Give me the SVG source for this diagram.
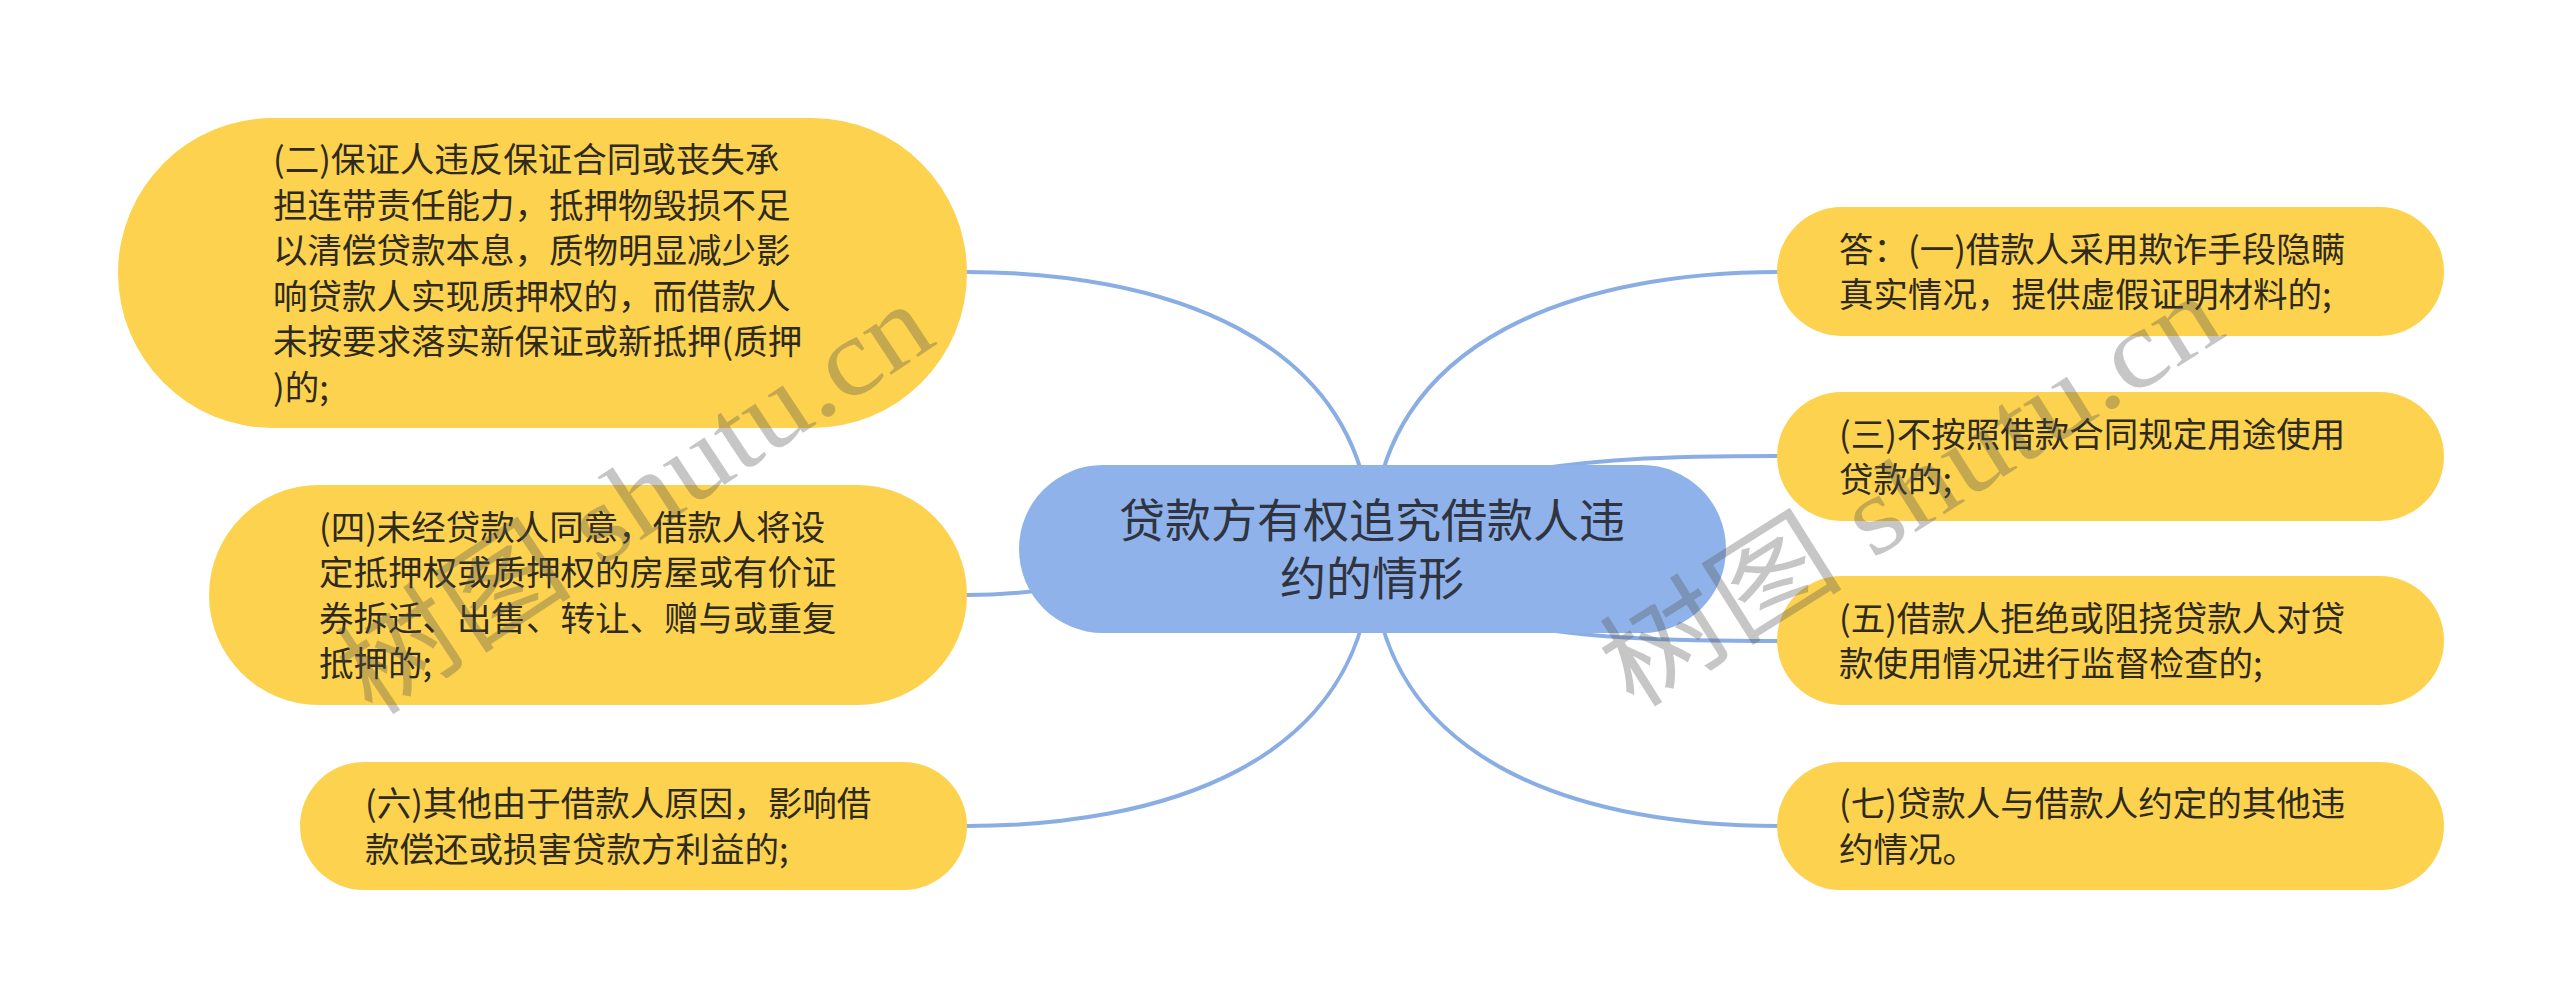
<svg xmlns="http://www.w3.org/2000/svg" width="2560" height="1006" viewBox="0 0 2560 1006">
<style>
.bg{fill:#ffffff}
.leaf{fill:#FCD24F}
.root{fill:#8EB2E9}
.t{font-family:"Noto Sans CJK SC","Noto Sans",sans-serif;font-size:34.5px;fill:#2E2A1E}
.rt{font-family:"Noto Sans CJK SC","Noto Sans",sans-serif;font-size:46px;fill:#2F3440;text-anchor:middle}
.c{fill:none;stroke:#8AAEE4;stroke-width:4;stroke-linecap:round}
.wm{font-family:"Liberation Serif","Noto Sans CJK SC",serif;font-size:110px;fill:#555;opacity:0.33}
</style>
<rect class="bg" x="0" y="0" width="2560" height="1006"/>
<g id="connectors">
<path class="c" d="M1372,549 C1372,330 1150,272 967,272"/>
<path class="c" d="M1372,549 C1200,549 1100,595 967,595"/>
<path class="c" d="M1372,549 C1372,770 1150,826 967,826"/>
<path class="c" d="M1372,549 C1372,330 1594,272 1778,272"/>
<path class="c" d="M1372,549 C1450,470 1550,456 1778,456"/>
<path class="c" d="M1372,549 C1450,628 1550,641 1778,641"/>
<path class="c" d="M1372,549 C1372,770 1594,826 1778,826"/>
</g>
<g id="root">
<rect class="root" x="1019" y="465" width="707" height="168" rx="84" ry="84"/>
<text class="rt" x="1372" y="537">贷款方有权追究借款人违</text>
<text class="rt" x="1372" y="595">约的情形</text>
</g>
<g id="node2">
<rect class="leaf" x="118" y="118" width="849" height="310" rx="155" ry="155"/>
<text class="t" x="273" y="172">(二)保证人违反保证合同或丧失承</text>
<text class="t" x="273" y="218">担连带责任能力，抵押物毁损不足</text>
<text class="t" x="273" y="263">以清偿贷款本息，质物明显减少影</text>
<text class="t" x="273" y="309">响贷款人实现质押权的，而借款人</text>
<text class="t" x="273" y="354">未按要求落实新保证或新抵押(质押</text>
<text class="t" x="273" y="400">)的;</text>
</g>
<g id="node4">
<rect class="leaf" x="209" y="485" width="758" height="220" rx="110" ry="110"/>
<text class="t" x="319" y="540">(四)未经贷款人同意，借款人将设</text>
<text class="t" x="319" y="585">定抵押权或质押权的房屋或有价证</text>
<text class="t" x="319" y="631">券拆迁、出售、转让、赠与或重复</text>
<text class="t" x="319" y="676">抵押的;</text>
</g>
<g id="node6">
<rect class="leaf" x="300" y="762" width="667" height="128" rx="64" ry="64"/>
<text class="t" x="365" y="816">(六)其他由于借款人原因，影响借</text>
<text class="t" x="365" y="862">款偿还或损害贷款方利益的;</text>
</g>
<g id="node1">
<rect class="leaf" x="1777" y="207" width="667" height="129" rx="64.5" ry="64.5"/>
<text class="t" x="1839" y="262">答：(一)借款人采用欺诈手段隐瞒</text>
<text class="t" x="1839" y="307">真实情况，提供虚假证明材料的;</text>
</g>
<g id="node3">
<rect class="leaf" x="1777" y="392" width="667" height="129" rx="64.5" ry="64.5"/>
<text class="t" x="1839" y="447">(三)不按照借款合同规定用途使用</text>
<text class="t" x="1839" y="492">贷款的;</text>
</g>
<g id="node5">
<rect class="leaf" x="1777" y="576" width="667" height="129" rx="64.5" ry="64.5"/>
<text class="t" x="1839" y="631">(五)借款人拒绝或阻挠贷款人对贷</text>
<text class="t" x="1839" y="676">款使用情况进行监督检查的;</text>
</g>
<g id="node7">
<rect class="leaf" x="1777" y="762" width="667" height="128" rx="64" ry="64"/>
<text class="t" x="1839" y="816">(七)贷款人与借款人约定的其他违</text>
<text class="t" x="1839" y="862">约情况。</text>
</g>
<g id="watermarks">
<text class="wm" transform="translate(372,718) rotate(-33.5)" textLength="680" lengthAdjust="spacingAndGlyphs">树图 shutu.cn</text>
<text class="wm" transform="translate(1633,710) rotate(-32.2)" textLength="704" lengthAdjust="spacingAndGlyphs">树图 shutu.cn</text>
</g>
</svg>
